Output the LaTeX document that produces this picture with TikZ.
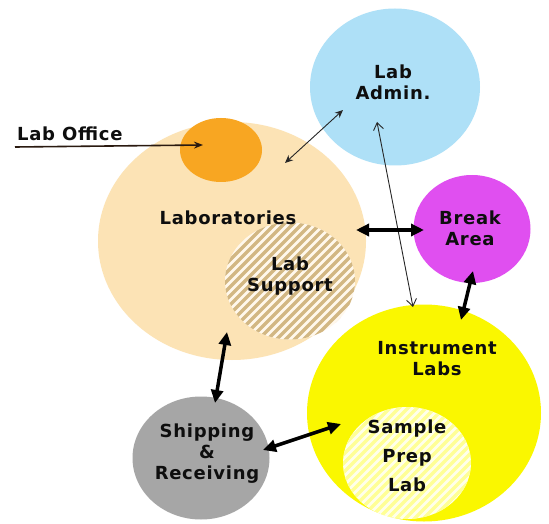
\documentclass[tikz,border=0pt]{standalone}
\usepackage{fontspec}
\setmainfont{DejaVu Sans}[LetterSpace=4]
\usetikzlibrary{shapes.geometric,arrows.meta}
\definecolor{peach}{HTML}{FCE3B5}
\definecolor{office}{HTML}{F8A622}
\definecolor{admin}{HTML}{AEE0F7}
\definecolor{breakc}{HTML}{E04FF0}
\definecolor{instr}{HTML}{FAF700}
\definecolor{shipc}{HTML}{A6A6A6}
\definecolor{tanstripe}{HTML}{D2B783}
\definecolor{tanbg}{HTML}{FFF8EC}
\definecolor{ylstripe}{HTML}{FFFF96}
\definecolor{ylbg}{HTML}{FFFFEA}
\definecolor{txt}{HTML}{0E0E0E}
\definecolor{officeline}{HTML}{2A1A10}
\begin{document}
\begin{tikzpicture}[x=1pt,y=-1pt,
  area/.style={ellipse, inner sep=0pt, draw=none},
  hatch/.style 2 args={fill=#2, path picture={
      \foreach \k in {-25,...,25}
        \draw[#1, line width=3.4pt]
          ([xshift=\k*9pt-150pt, yshift=-150pt]path picture bounding box.center) -- ++(300pt,300pt);}},
  lbl/.style={align=center, font=\fontsize{18}{21}\selectfont\bfseries, text=txt, inner sep=0pt},
  thickarrow/.style={line width=3.5pt, draw=black,
      {Triangle[length=13pt,width=12pt]}-{Triangle[length=13pt,width=12pt]}},
  thinarrow/.style={line width=0.9pt, draw=black!85,
      {Stealth[length=8pt,width=7pt]}-{Stealth[length=8pt,width=7pt]}},
  openarrow/.style={line width=0.9pt, draw=black!85,
      {Straight Barb[length=7pt,width=10pt]}-{Straight Barb[length=7pt,width=10pt]}},
]
\useasboundingbox[fill=white] (0,0) rectangle (549,524);

% areas
\node[area, fill=peach, minimum width=268pt, minimum height=238pt] (lab) at (232,241) {};
\node[area, fill=office, minimum width=82pt, minimum height=64pt] (office) at (221,150) {};
\node[area, hatch={tanstripe}{tanbg}, minimum width=130pt, minimum height=117pt] (support) at (290,281) {};
\node[area, fill=admin, minimum width=170pt, minimum height=157pt] (admin) at (395,87) {};
\node[area, fill=breakc, minimum width=117pt, minimum height=108pt] (break) at (472,229) {};
\node[area, fill=instr, minimum width=234pt, minimum height=217pt] (instr) at (424,413) {};
\node[area, hatch={ylstripe}{ylbg}, minimum width=128pt, minimum height=112pt] (prep) at (407,463) {};
\node[area, fill=shipc, minimum width=137pt, minimum height=123pt] (ship) at (201,458) {};

% labels
\node[lbl] (tlab) at (228,218) {Laboratories};
\node[lbl] (tsupport) at (290,276) {Lab\\Support};
\node[lbl] (tadmin) at (393,82) {Lab\\Admin.};
\node[lbl] (tbreak) at (470,228) {Break\\Area};
\node[lbl] (tinstr) at (437,359) {Instrument\\Labs};
\node[lbl, font=\fontsize{18}{29}\selectfont\bfseries] (tprep) at (407,456) {Sample\\Prep\\Lab};
\node[lbl] (tship) at (207,454) {Shipping\\\&\\Receiving};
\node[lbl, anchor=west] (toffice) at (17,134) {Lab Office};

% connector end points
\coordinate (offS) at (15,147);
\coordinate (offE) at (203,145);
\coordinate (la1) at (285,163);
\coordinate (la2) at (343,110);
\coordinate (ai1) at (377,122);
\coordinate (ai2) at (413,307);
\coordinate (lb1) at (356,230);
\coordinate (lb2) at (424,230);
\coordinate (bi1) at (473,271);
\coordinate (bi2) at (461,320);
\coordinate (ls1) at (227,332);
\coordinate (ls2) at (215,403);
\coordinate (sp1) at (263,450);
\coordinate (sp2) at (341,424);

% connectors
\draw[line width=1.6pt, draw=officeline, -{Stealth[length=9pt,width=7pt]}] (offS) -- (offE);
\draw[thinarrow] (la1) -- (la2);
\draw[openarrow] (ai1) -- (ai2);
\draw[thickarrow] (lb1) -- (lb2);
\draw[thickarrow] (bi1) -- (bi2);
\draw[thickarrow] (ls1) -- (ls2);
\draw[thickarrow] (sp1) -- (sp2);
\end{tikzpicture}
\end{document}
